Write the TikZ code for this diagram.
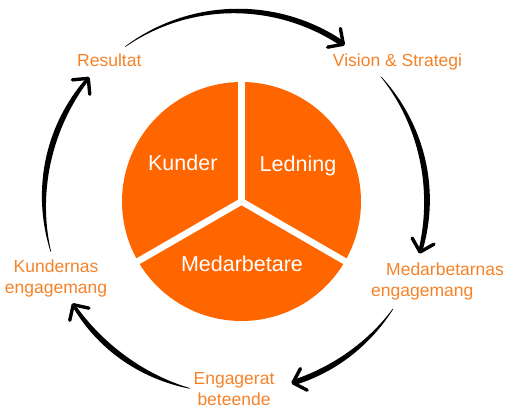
\documentclass[tikz,border=0pt]{standalone}
\usepackage{fontspec}
\setmainfont{Liberation Sans}
\usetikzlibrary{calc}
\definecolor{pieorange}{RGB}{255,102,0}
\definecolor{labelorange}{RGB}{245,130,40}
\tikzset{
  lbl/.style={text=labelorange, inner sep=0pt, font=\fontsize{17.5}{21}\selectfont},
  pielbl/.style={text=white, inner sep=0pt, font=\fontsize{21.5}{25}\selectfont},
  gapline/.style={draw=white, line width=6.5pt},
  headline/.style={draw=black, line width=3.4pt, line cap=round, line join=round},
}
\newcommand\brusharrow[6]{%
  \fill[black] plot[domain=0:1,samples=60,smooth] ({(#1)+((#2)-(#1))*\x}:{#3+(0.6+#4*sin(#5*\x))/2})
     -- plot[domain=1:0,samples=60,smooth] ({(#1)+((#2)-(#1))*\x}:{#3-(0.6+#4*sin(#5*\x))/2}) -- cycle;
  \coordinate (#6) at ({#2}:{#3});
  \draw[headline] ($(#6)+({#2+135}:16)$) -- (#6) -- ($(#6)+({#2+45}:16)$);
}
\begin{document}
\begin{tikzpicture}[x=1pt,y=1pt]
\useasboundingbox (0,0) rectangle (512,413);
% pie
\coordinate (pc) at (241.5,211.5);
\fill[pieorange] (pc) circle (119.5);
\draw[gapline] (pc) -- ++(90:121);
\draw[gapline] (pc) -- ++(210:121);
\draw[gapline] (pc) -- ++(330:121);
\node[pielbl, anchor=base] (kunder) at (182.8,242) {Kunder};
\node[pielbl, anchor=base] (ledning) at (298,241.3) {Ledning};
\node[pielbl, anchor=base] (medarb) at (242,141.3) {Medarbetare};
% cycle labels
\node[lbl, anchor=base] (res) at (109.3,346.3) {Resultat};
\node[lbl, anchor=base] (vis) at (397.5,346.3) {Vision \& Strategi};
\node[lbl, anchor=west, align=left] (meng) at (371,131.7) {\hspace*{15pt}Medarbetarnas\\engagemang};
\node[lbl, align=center] (beteende) at (234,24.3) {Engagerat\\beteende};
\node[lbl, align=center] (keng) at (56,134.7) {Kundernas\\engagemang};
% arrows
\begin{scope}[shift={(236,212)}]
  \brusharrow{125.7}{55.6}{190}{5}{100}{endA}
  \brusharrow{40.5}{-15.5}{191}{5.2}{140}{endB}
  \brusharrow{-34.5}{-72.6}{190.5}{5}{110}{endC}
  \brusharrow{-103.8}{-147.5}{193}{5}{150}{endD}
  \brusharrow{-164.7}{-219.7}{192}{5.2}{150}{endE}
\end{scope}
\end{tikzpicture}
\end{document}
